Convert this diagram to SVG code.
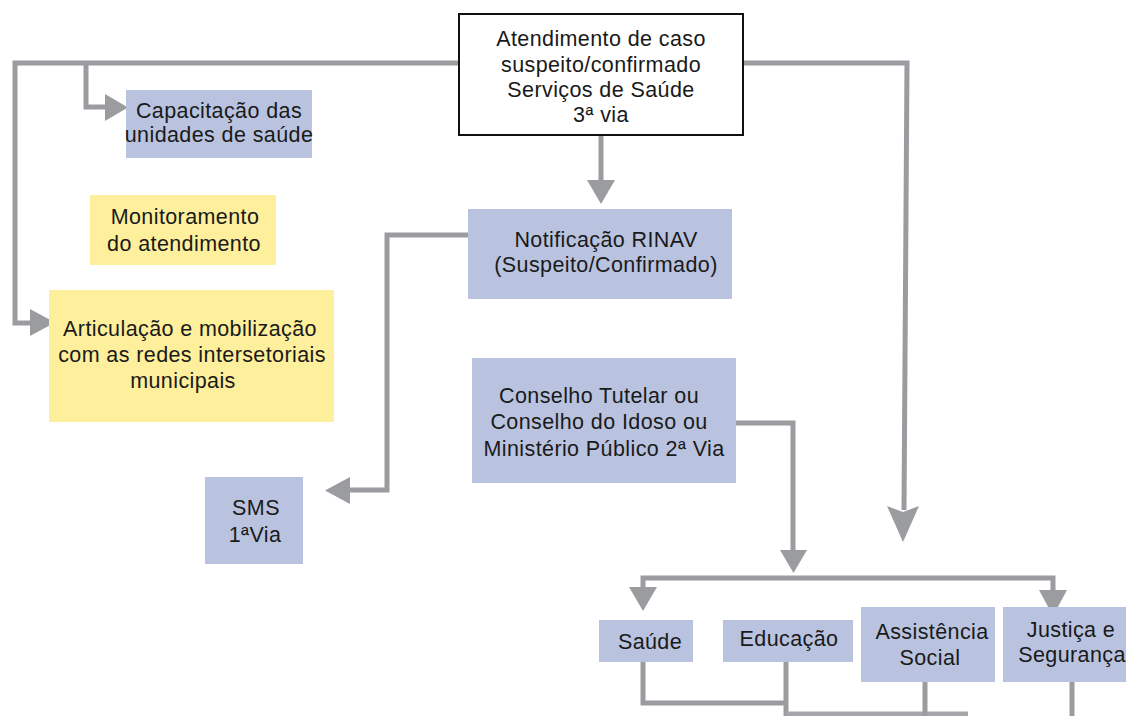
<svg xmlns="http://www.w3.org/2000/svg" width="1126" height="716" viewBox="0 0 1126 716">
<style>
.blue{fill:#b9c3df}
.yellow{fill:#fdef9b}
.main{fill:#ffffff;stroke:#111111;stroke-width:2}
text{font-family:"Liberation Sans",Arial,sans-serif;font-size:21.5px;fill:#1a1a1a;text-anchor:middle;letter-spacing:0.4px}
.ln{fill:none;stroke:#9b9c9f;stroke-width:5;stroke-linejoin:miter}
.ah{fill:#9b9c9f}
</style>
<rect width="1126" height="716" fill="#ffffff"/>
<g id="connectors">
<path class="ln" d="M458,63 H15 V323 H32"/>
<path class="ln" d="M86,63 V107 H106"/>
<polygon class="ah" points="105,94 128,107.5 105,121"/>
<polygon class="ah" points="30,309 55,322.5 30,336"/>
<path class="ln" d="M743,63 H907 L904,510"/>
<polygon class="ah" points="887,506 903,512 919,506 903,542"/>
<path class="ln" d="M601,136 V181"/>
<polygon class="ah" points="587,180 615,180 601,204"/>
<path class="ln" d="M468,235 H387 V490 H348"/>
<polygon class="ah" points="350,477 350,504 325,490.5"/>
<path class="ln" d="M730,423 H793 V551"/>
<polygon class="ah" points="780,550 807,550 793.5,573"/>
<path class="ln" d="M643,589 V578 H1053 V592"/>
<polygon class="ah" points="629,587 657,587 643,611"/>
<polygon class="ah" points="1039,590 1067,590 1053,616"/>
<path class="ln" d="M643,662 V703 H786"/>
<path class="ln" d="M786,662 V716"/>
<path class="ln" d="M786,714 H968" style="stroke:#a5a6a9"/>
<path class="ln" d="M925,682 V716"/>
<path class="ln" d="M1072,682 V716"/>
</g>
<g id="node-atendimento">
<rect class="main" x="459" y="14" width="284" height="121"/>
<text x="601" y="46">Atendimento de caso</text>
<text x="601" y="72">suspeito/confirmado</text>
<text x="601" y="97">Serviços de Saúde</text>
<text x="601" y="122">3ª via</text>
</g>
<g id="node-capacitacao">
<rect class="blue" x="126" y="90" width="186" height="68"/>
<text x="219" y="118">Capacitação das</text>
<text x="219" y="142">unidades de saúde</text>
</g>
<g id="node-monitoramento">
<rect class="yellow" x="90" y="195" width="186" height="70"/>
<text x="185" y="224">Monitoramento</text>
<text x="184" y="251">do atendimento</text>
</g>
<g id="node-articulacao">
<rect class="yellow" x="49" y="290" width="285" height="132"/>
<text x="190" y="336">Articulação e mobilização</text>
<text x="192" y="362">com as redes intersetoriais</text>
<text x="183" y="388">municipais</text>
</g>
<g id="node-sms">
<rect class="blue" x="205" y="477" width="98" height="87"/>
<text x="256" y="515">SMS</text>
<text x="255" y="542">1ªVia</text>
</g>
<g id="node-notificacao">
<rect class="blue" x="468" y="209" width="264" height="90"/>
<text x="606" y="247">Notificação RINAV</text>
<text x="606" y="272">(Suspeito/Confirmado)</text>
</g>
<g id="node-conselho">
<rect class="blue" x="472" y="358" width="264" height="125"/>
<text x="599" y="403">Conselho Tutelar ou</text>
<text x="599" y="429">Conselho do Idoso ou</text>
<text x="604" y="456">Ministério Público 2ª Via</text>
</g>
<g id="node-saude">
<rect class="blue" x="599" y="620" width="94" height="42"/>
<text x="650" y="649">Saúde</text>
</g>
<g id="node-educacao">
<rect class="blue" x="723" y="620" width="130" height="42"/>
<text x="789" y="646">Educação</text>
</g>
<g id="node-assistencia">
<rect class="blue" x="861" y="607" width="134" height="75"/>
<text x="932" y="639">Assistência</text>
<text x="930" y="665">Social</text>
</g>
<g id="node-justica">
<rect class="blue" x="1003" y="607" width="126" height="75"/>
<text x="1071" y="637">Justiça e</text>
<text x="1072" y="662">Segurança</text>
</g>
</svg>
